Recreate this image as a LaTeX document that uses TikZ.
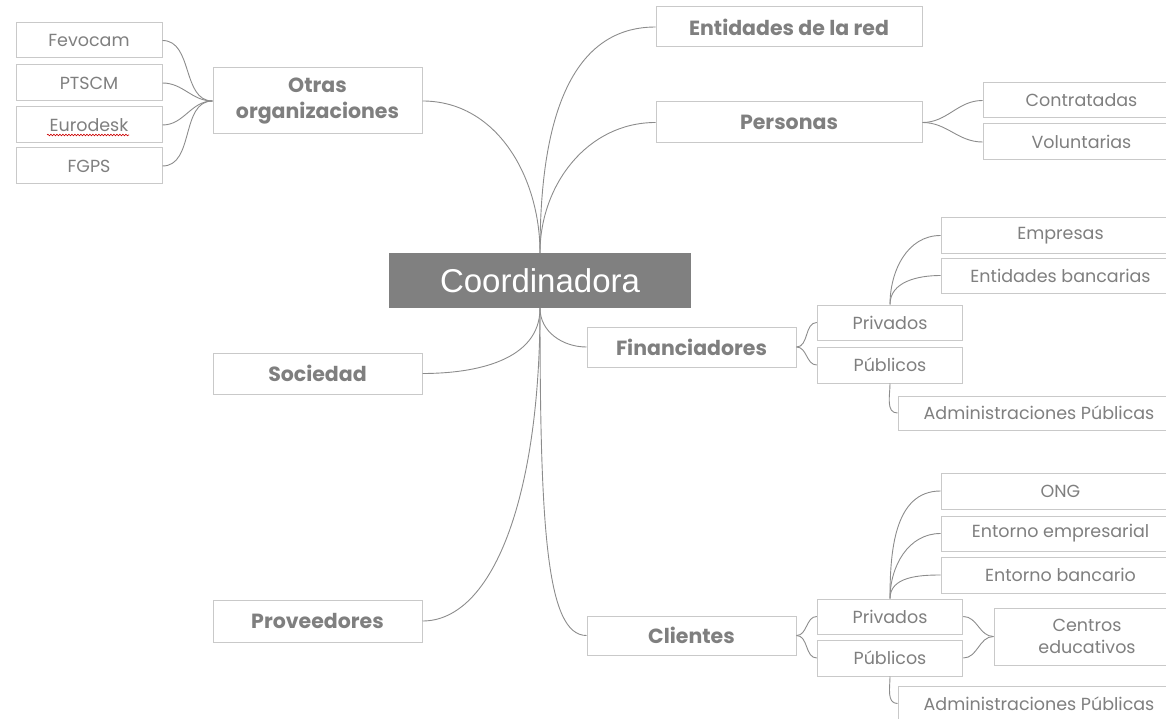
\documentclass[tikz,border=0pt]{standalone}
\usepackage{fontspec}
\setmainfont{Poppins}
\newfontfamily\arialfont{Liberation Sans}
\usetikzlibrary{decorations.pathmorphing}
\definecolor{txtgray}{HTML}{7F7F7F}
\definecolor{boxgray}{HTML}{C9C9C9}
\definecolor{linkgray}{HTML}{8C8C8C}
\definecolor{hubgray}{HTML}{808080}
\tikzset{
  hub/.style={rectangle, fill=hubgray, text=white, inner sep=0pt, font=\arialfont\fontsize{33}{36}\selectfont},
  topic/.style={rectangle, draw=boxgray, fill=white, text=txtgray, line width=1pt, inner sep=0pt, align=center, font=\bfseries\fontsize{20.5}{26}\selectfont},
  leaf/.style={topic, font=\fontsize{17.5}{22}\selectfont},
  link/.style={draw=linkgray, line width=0.9pt}
}
\begin{document}
\begin{tikzpicture}[x=1pt, y=-1pt]
\useasboundingbox (0,0) rectangle (1166,719);
\clip (0,0) rectangle (1166,719);
% centre
\node[hub, minimum width=302, minimum height=55] (coord) at (540,280.5) {Coordinadora};
% first level
\node[topic, minimum width=266, minimum height=40] (entidades) at (789,27) {Entidades de la red};
\node[topic, minimum width=266, minimum height=41] (personas) at (789,122.5) {Personas};
\node[topic, minimum width=209, minimum height=66] (otras) at (317.5,101) {Otras\\organizaciones};
\node[topic, minimum width=209, minimum height=41] (sociedad) at (317.5,373.5) {Sociedad};
\node[topic, minimum width=209, minimum height=42] (proveedores) at (317.5,621) {Proveedores};
\node[topic, minimum width=209, minimum height=40] (financiadores) at (691.5,347) {Financiadores};
\node[topic, minimum width=209, minimum height=39] (clientes) at (691.5,635.5) {Clientes};
% otras organizaciones
\node[leaf, minimum width=146, minimum height=35] (fevocam) at (89,40.5) {Fevocam};
\node[leaf, minimum width=146, minimum height=36] (ptscm) at (89,83) {PTSCM};
\node[leaf, minimum width=146, minimum height=36] (eurodesk) at (89,125) {Eurodesk};
\node[leaf, minimum width=146, minimum height=36] (fgps) at (89,166) {FGPS};
\draw[red!80!black, line width=0.6pt, decorate, decoration={snake, amplitude=0.8, segment length=3}] (47,135) -- (129,135);
% personas
\node[leaf, minimum width=197, minimum height=35] (contratadas) at (1081.5,100.5) {Contratadas};
\node[leaf, minimum width=197, minimum height=36] (voluntarias) at (1081.5,142) {Voluntarias};
% financiadores
\node[leaf, minimum width=145.5, minimum height=35] (privf) at (890,322.5) {Privados};
\node[leaf, minimum width=145.5, minimum height=36] (pubf) at (890,365) {Públicos};
\node[leaf, minimum width=239, minimum height=35] (empresas) at (1060.5,235.5) {Empresas};
\node[leaf, minimum width=239, minimum height=35] (bancarias) at (1060.5,275.5) {Entidades bancarias};
\node[leaf, minimum width=282, minimum height=34] (adminf) at (1039,413) {Administraciones Públicas};
% clientes
\node[leaf, minimum width=145.5, minimum height=35] (privc) at (890,616.5) {Privados};
\node[leaf, minimum width=145.5, minimum height=36] (pubc) at (890,658) {Públicos};
\node[leaf, minimum width=239, minimum height=36] (ong) at (1060.5,491) {ONG};
\node[leaf, minimum width=239, minimum height=35] (empresarial) at (1060.5,533.5) {Entorno empresarial};
\node[leaf, minimum width=239, minimum height=36] (bancario) at (1060.5,575) {Entorno bancario};
\node[leaf, minimum width=186, minimum height=57] (centros) at (1087,636.5) {Centros\\educativos};
\node[leaf, minimum width=282, minimum height=35] (adminc) at (1039,703.5) {Administraciones Públicas};
% branches
\draw[link] (coord.north) to[out=90, in=180] (entidades.west);
\draw[link] (coord.north) to[out=90, in=180] (personas.west);
\draw[link] (coord.north) to[out=90, in=0] (otras.east);
\draw[link] (coord.south) to[out=-90, in=180] (financiadores.west);
\draw[link] (coord.south) to[out=-90, in=0] (sociedad.east);
\draw[link] (coord.south) .. controls +(0,190) and +(70,0) .. (proveedores.east);
\draw[link] (coord.south) .. controls +(0,220) and +(-40,0) .. (clientes.west);
\foreach \n in {fevocam, ptscm, eurodesk, fgps}
  \draw[link] (otras.west) to[out=180, in=0] (\n.east);
\foreach \n in {contratadas, voluntarias}
  \draw[link] (personas.east) to[out=0, in=180] (\n.west);
\foreach \n in {privf, pubf}
  \draw[link] (financiadores.east) to[out=0, in=180] (\n.west);
\foreach \n in {empresas, bancarias}
  \draw[link] (privf.north) to[out=90, in=180] (\n.west);
\draw[link] (pubf.south) to[out=-90, in=180] (adminf.west);
\foreach \n in {privc, pubc}
  \draw[link] (clientes.east) to[out=0, in=180] (\n.west);
\foreach \n in {ong, empresarial, bancario}
  \draw[link] (privc.north) to[out=90, in=180] (\n.west);
\draw[link] (privc.east) to[out=0, in=180] (centros.west);
\draw[link] (pubc.east) to[out=0, in=180] (centros.west);
\draw[link] (pubc.south) to[out=-90, in=180] (adminc.west);
\end{tikzpicture}
\end{document}
